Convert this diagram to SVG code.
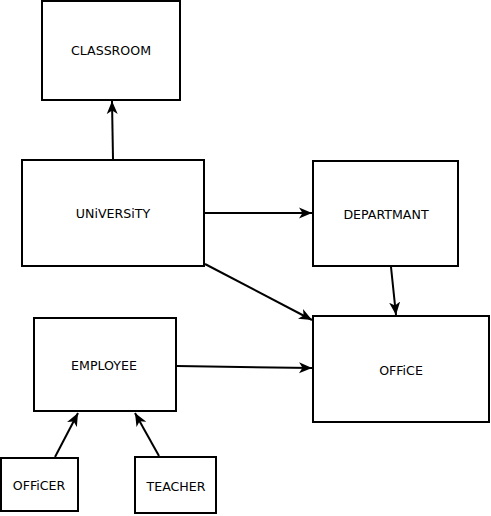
<svg xmlns="http://www.w3.org/2000/svg" width="491" height="516" viewBox="0 0 491 516">
<style>
.box{fill:#fff;stroke:#000;stroke-width:2}
.lbl{font-family:"DejaVu Sans",sans-serif;font-size:12.6px;fill:#000;text-anchor:middle;dominant-baseline:central}
.edge{stroke:#000;stroke-width:2;fill:none;marker-end:url(#arr)}
</style>
<defs>
<marker id="arr" markerUnits="userSpaceOnUse" markerWidth="14" markerHeight="12" refX="13" refY="5.5" orient="auto" viewBox="0 0 14 11">
<path d="M0,0 L13,5.5 L0,11 L3.5,5.5 z" fill="#000"/>
</marker>
</defs>
<rect width="491" height="516" fill="#fff"/>
<g id="connectors">
<line class="edge" x1="113" y1="159" x2="112" y2="101"/>
<line class="edge" x1="205" y1="213" x2="312" y2="213"/>
<line class="edge" x1="205" y1="264" x2="312" y2="320"/>
<line class="edge" x1="391" y1="267" x2="396" y2="315"/>
<line class="edge" x1="177" y1="366" x2="312" y2="368"/>
<line class="edge" x1="55" y1="457" x2="78" y2="413"/>
<line class="edge" x1="159" y1="456" x2="135" y2="413"/>
</g>
<g id="classroom"><rect class="box" x="42" y="1" width="138" height="99"/><text class="lbl" x="111" y="50">CLASSROOM</text></g>
<g id="university"><rect class="box" x="22" y="160" width="182" height="106"/><text class="lbl" x="113" y="213">UNiVERSiTY</text></g>
<g id="departmant"><rect class="box" x="313" y="161" width="145" height="105"/><text class="lbl" x="386" y="214">DEPARTMANT</text></g>
<g id="office"><rect class="box" x="313" y="316" width="176" height="106"/><text class="lbl" x="401" y="370">OFFiCE</text></g>
<g id="employee"><rect class="box" x="34" y="318" width="142" height="93"/><text class="lbl" x="104" y="365">EMPLOYEE</text></g>
<g id="officer"><rect class="box" x="1" y="458" width="77" height="53"/><text class="lbl" x="39" y="485">OFFiCER</text></g>
<g id="teacher"><rect class="box" x="135" y="457" width="81" height="56"/><text class="lbl" x="176" y="486">TEACHER</text></g>
</svg>
